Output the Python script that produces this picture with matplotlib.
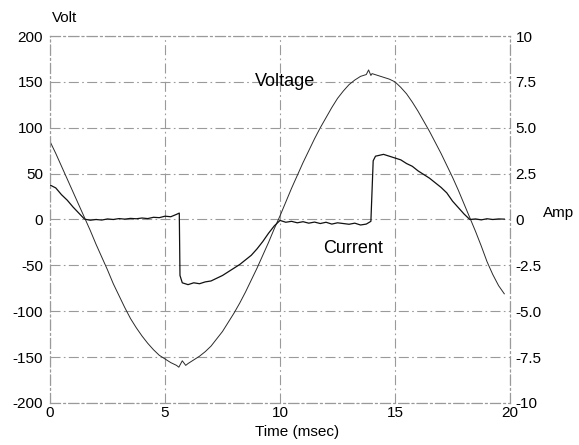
import numpy as np
import matplotlib.pyplot as plt

plt.rcParams['font.family'] = ['Liberation Sans', 'DejaVu Sans']
plt.rcParams['axes.unicode_minus'] = False

# voltage trace (msec, volt)
volt_t = [0.00, 0.25, 0.50, 0.75, 1.00, 1.25, 1.50, 1.75, 2.00, 2.25, 2.50, 2.75,
          3.00, 3.25, 3.50, 3.75, 4.00, 4.25, 4.50, 4.75, 5.00, 5.25, 5.50, 5.60,
          5.75, 5.90, 6.00, 6.25, 6.50, 6.75, 7.00, 7.25, 7.50, 7.75, 8.00, 8.25,
          8.50, 8.75, 9.00, 9.25, 9.50, 9.75, 10.00, 10.25, 10.50, 10.75, 11.00,
          11.25, 11.50, 11.75, 12.00, 12.25, 12.50, 12.75, 13.00, 13.25, 13.50,
          13.75, 13.85, 13.95, 14.00, 14.25, 14.50, 14.75, 15.00, 15.25, 15.50,
          15.75, 16.00, 16.25, 16.50, 16.75, 17.00, 17.25, 17.50, 17.75, 18.00,
          18.25, 18.50, 18.75, 19.00, 19.25, 19.50, 19.75]
volt_v = [85, 72, 58, 44, 30, 16, 2, -12, -27, -41, -55, -70,
          -83, -96, -108, -118, -127, -135, -142, -148, -152, -156, -159, -161,
          -154, -159, -157, -153, -149, -144, -138, -130, -122, -112, -102, -91,
          -79, -66, -53, -39, -25, -10, 4, 19, 34, 48, 62,
          75, 88, 100, 111, 122, 132, 140, 147, 152, 156,
          158, 163, 157, 159, 157, 155, 153, 150, 144, 137,
          128, 118, 107, 96, 84, 72, 59, 46, 32, 17,
          2, -13, -29, -46, -60, -72, -81]

# current trace (msec, amp)
cur_t = [0.00, 0.25, 0.50, 0.75, 1.00, 1.25, 1.50, 1.75, 2.00, 2.25, 2.50, 2.75,
         3.00, 3.25, 3.50, 3.75, 4.00, 4.25, 4.50, 4.75, 5.00, 5.25, 5.50, 5.62,
         5.65, 5.75, 6.00, 6.25, 6.50, 6.75, 7.00, 7.25, 7.50, 7.75, 8.00, 8.25,
         8.50, 8.75, 9.00, 9.25, 9.50, 9.75, 10.00, 10.25, 10.50, 10.75, 11.00,
         11.25, 11.50, 11.75, 12.00, 12.25, 12.50, 12.75, 13.00, 13.25, 13.50,
         13.75, 13.95, 14.05, 14.15, 14.50, 14.75, 15.00, 15.25, 15.50, 15.75,
         16.00, 16.25, 16.50, 16.75, 17.00, 17.25, 17.50, 17.75, 18.00, 18.25,
         18.50, 18.75, 19.00, 19.25, 19.50, 19.75]
cur_a = [1.88, 1.72, 1.35, 1.05, 0.68, 0.35, 0.02, -0.04, 0.00, -0.03, 0.03, 0.00,
         0.05, 0.02, 0.06, 0.04, 0.08, 0.05, 0.12, 0.10, 0.18, 0.15, 0.28, 0.35,
         -3.05, -3.45, -3.55, -3.45, -3.50, -3.40, -3.35, -3.20, -3.05, -2.85, -2.65, -2.45,
         -2.20, -1.95, -1.60, -1.20, -0.75, -0.35, -0.05, -0.15, -0.10, -0.18, -0.12,
         -0.20, -0.14, -0.22, -0.15, -0.25, -0.18, -0.22, -0.26, -0.20, -0.30,
         -0.25, -0.10, 3.20, 3.45, 3.55, 3.45, 3.35, 3.25, 3.05, 2.90,
         2.65, 2.45, 2.25, 2.00, 1.75, 1.45, 1.00, 0.65, 0.30, 0.00,
         0.03, -0.02, 0.04, 0.00, 0.03, 0.02]

x_ticks = [0, 5, 10, 15, 20]
v_ticks = [200, 150, 100, 50, 0, -50, -100, -150, -200]
a_ticks = [10, 7.5, 5.0, 2.5, 0, -2.5, -5.0, -7.5, -10]
a_labels = ['10', '7.5', '5.0', '2.5', '0', '-2.5', '-5.0', '-7.5', '-10']

fig = plt.figure(figsize=(5.79, 4.45), dpi=100)
ax = fig.add_axes([0.0864, 0.0944, 0.7945, 0.8247])
ax2 = ax.twinx()

grid_style = (0, (9, 3, 1.5, 3))
gcol = '#9a9a9a'

ax.set_xlim(0, 20)
ax.set_ylim(-200, 200)
ax2.set_ylim(-10, 10)
ax.set_xticks(x_ticks)
ax.set_yticks(v_ticks)
ax2.set_yticks(a_ticks)
ax2.set_yticklabels(a_labels)

ax.grid(True, color=gcol, linestyle=grid_style, linewidth=0.8)
for a in (ax, ax2):
    for s in a.spines.values():
        s.set_color(gcol)
        s.set_linestyle(grid_style)
        s.set_linewidth(0.8)
ax.tick_params(axis='both', length=0, labelsize=11)
ax.tick_params(axis='y', pad=5)
ax.tick_params(axis='x', pad=2)
ax2.tick_params(axis='y', length=0, labelsize=11, pad=4)

ax.plot(volt_t, volt_v, color='#2a2a2a', linewidth=0.7)
ax2.plot(cur_t, cur_a, color='#111111', linewidth=0.9)

ax.text(0.004, 1.049, 'Volt', transform=ax.transAxes, fontsize=11, va='center')
ax.text(1.072, 0.518, 'Amp', transform=ax.transAxes, fontsize=11, va='center',
        clip_on=False)
ax.text(8.9, 150, 'Voltage', fontsize=13, va='center')
ax.text(11.87, -32, 'Current', fontsize=13, va='center')
ax.text(0.537, -0.079, 'Time (msec)', transform=ax.transAxes, fontsize=11,
        ha='center', va='center')

fig.savefig('out.png', dpi=100)
